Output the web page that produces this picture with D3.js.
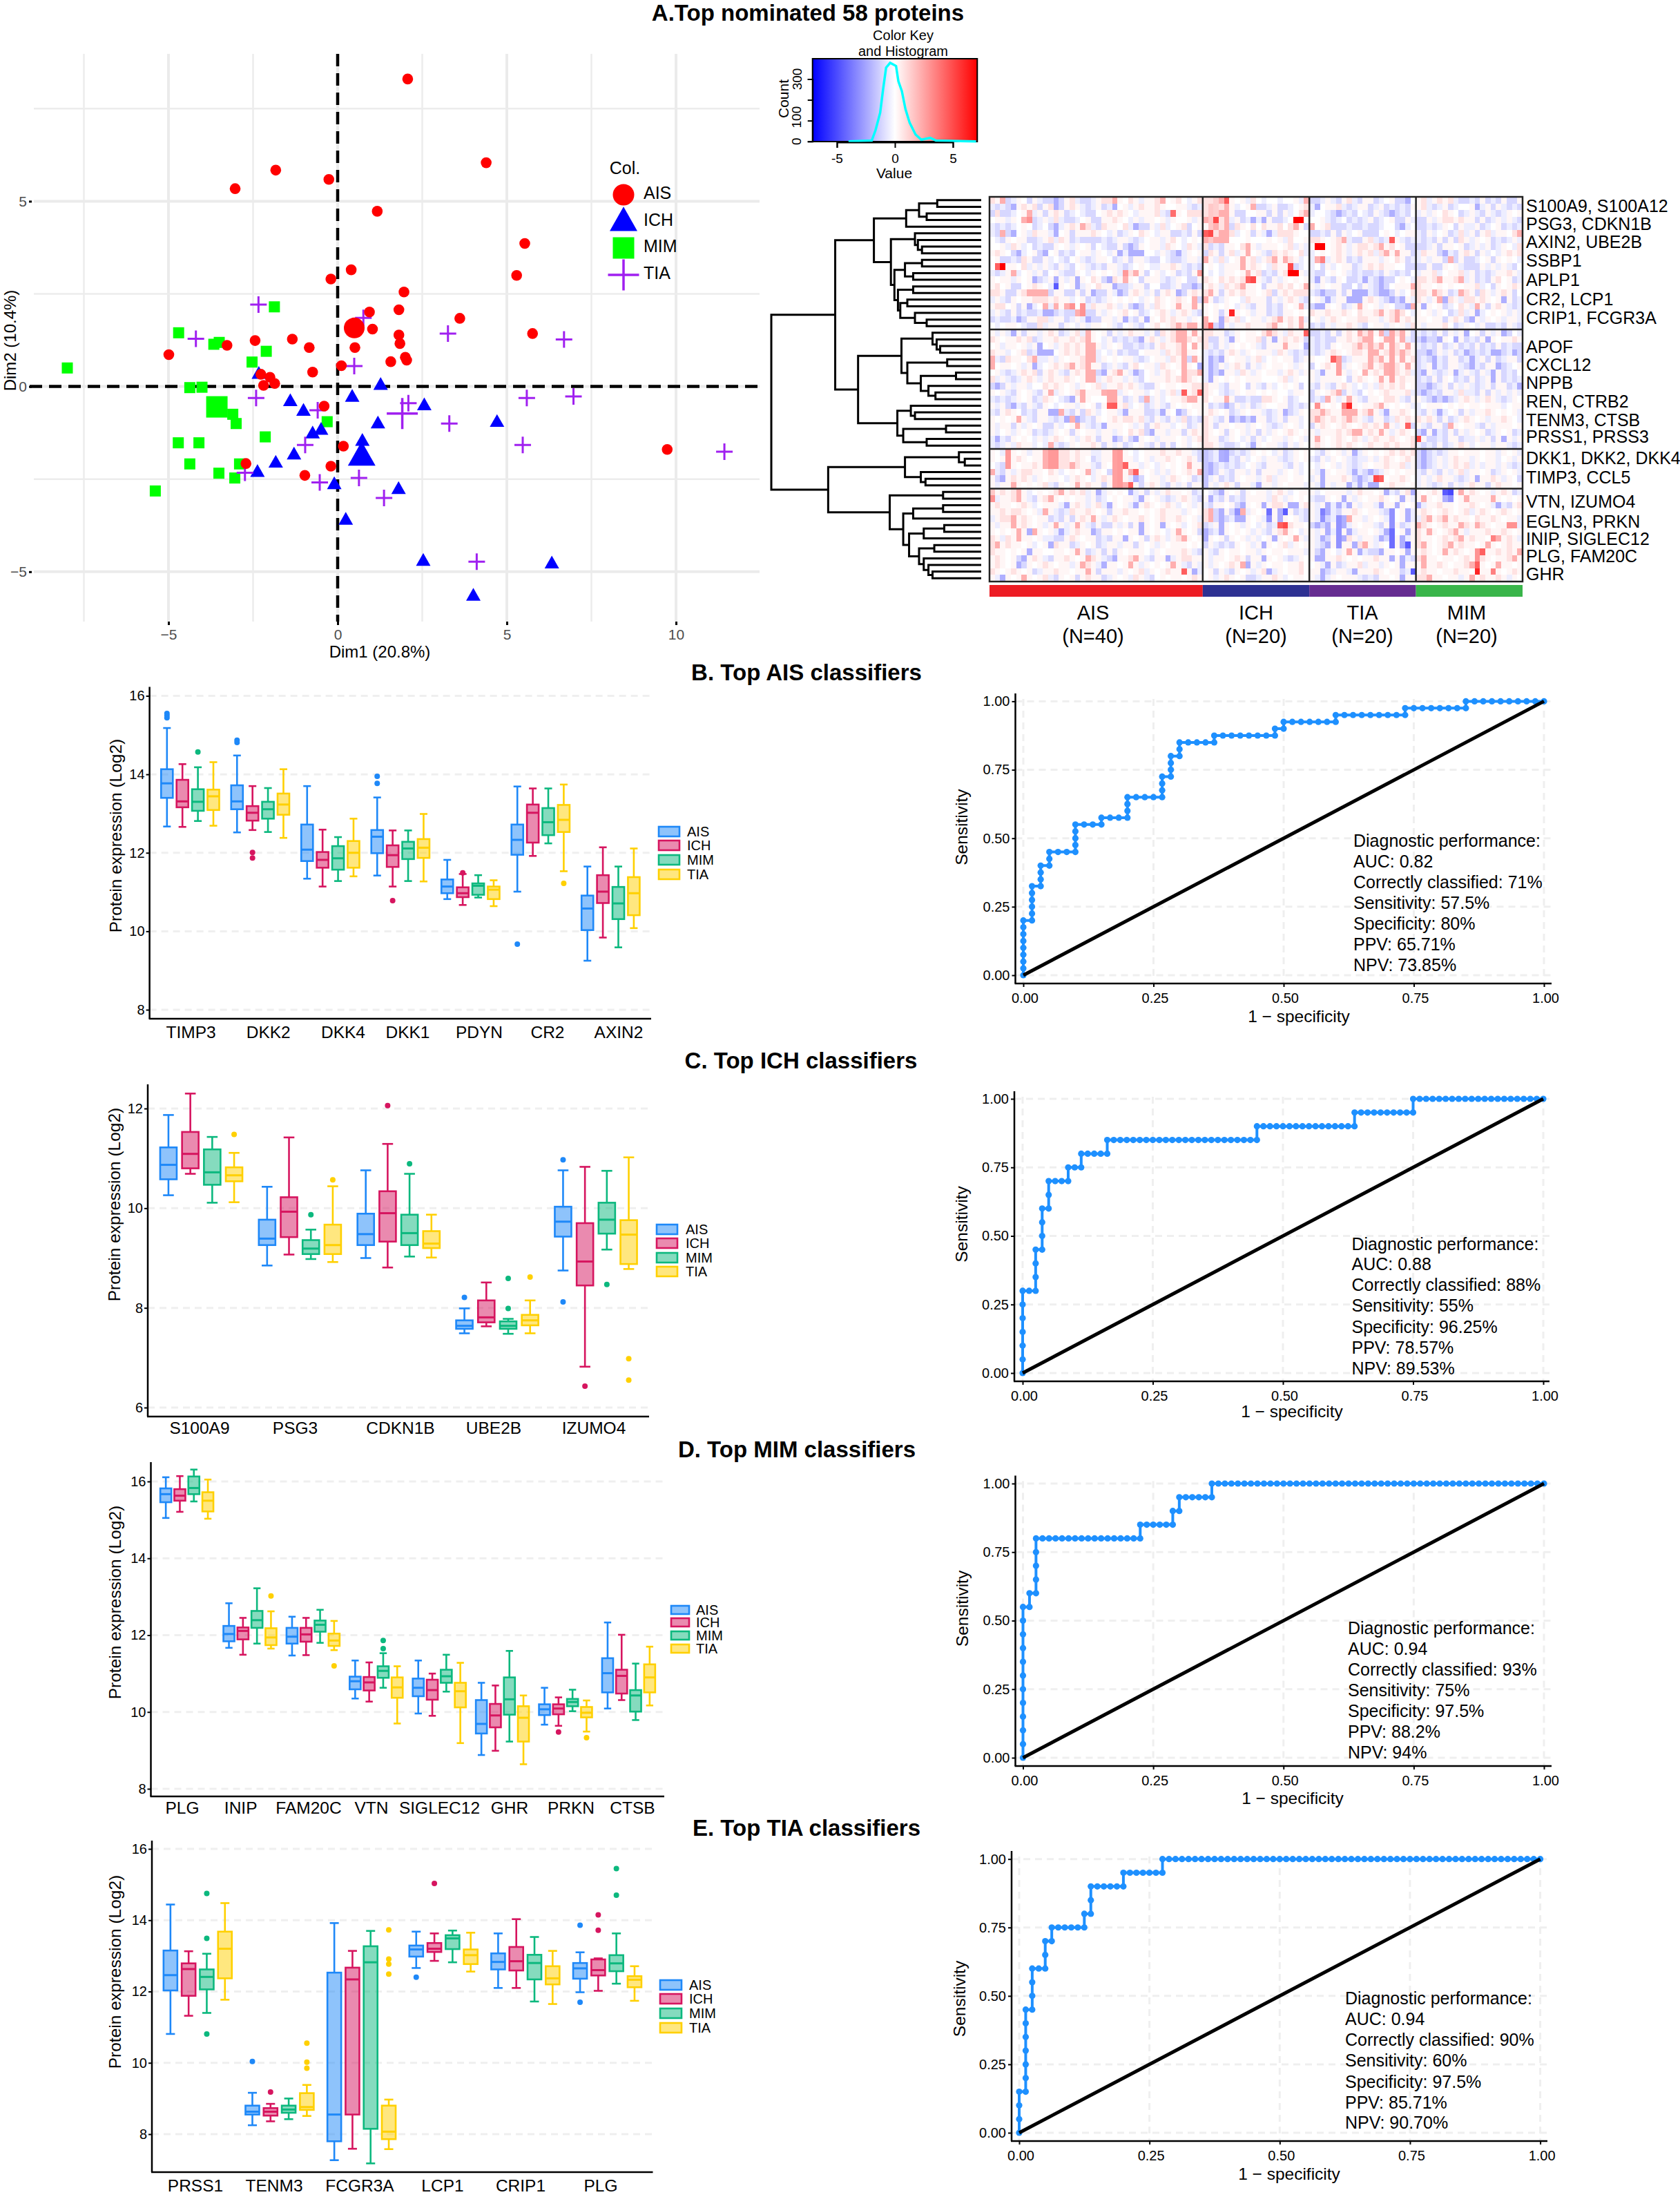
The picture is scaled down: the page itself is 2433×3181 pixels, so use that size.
<!DOCTYPE html>
<html><head><meta charset="utf-8">
<script src="https://cdnjs.cloudflare.com/ajax/libs/d3/7.8.5/d3.min.js"></script>
<style>html,body{margin:0;padding:0;background:#fff}svg{display:block}text{font-family:"Liberation Sans",Arial,sans-serif}</style>
</head><body><div id="c"></div>
<script>
// ---------- PCA data: [Dim1, Dim2]; the last entry of each list is the group centroid
const pcaAIS=[[2.07,8.30],[4.39,6.04],[-1.83,5.84],[-0.26,5.59],[-3.03,5.34],[1.17,4.73],[5.53,3.86],[5.29,3.00],[0.40,3.15],[-0.20,2.90],[1.96,2.55],[1.81,2.07],[0.94,2.01],[1.03,1.55],[3.61,1.84],[5.76,1.43],[1.81,1.39],[1.84,1.16],[0.51,1.05],[-0.84,1.05],[-1.34,1.28],[-2.44,1.24],[-3.27,1.11],[-4.99,0.86],[1.57,0.67],[2.00,0.79],[2.04,0.71],[0.11,0.56],[-0.74,0.39],[-2.27,0.33],[-2.00,0.25],[-2.19,0.03],[-1.86,0.08],[-0.40,-0.53],[0.17,-1.61],[-2.71,-2.08],[-0.20,-2.15],[-0.97,-2.40],[9.74,-1.70],[0.49,1.58]];
const pcaICH=[[-2.33,0.35],[-1.40,-0.39],[-1.01,-0.65],[0.43,-0.27],[1.27,0.05],[2.56,-0.50],[1.19,-0.99],[4.71,-0.95],[-0.49,-1.16],[-0.74,-1.26],[0.73,-1.46],[-1.29,-1.83],[-1.83,-2.05],[-2.37,-2.30],[-0.10,-2.63],[1.80,-2.76],[0.24,-3.59],[2.53,-4.70],[6.33,-4.77],[4.01,-5.64],[0.71,-1.87]];
const pcaMIM=[[-1.87,2.15],[-4.70,1.45],[-3.66,1.14],[-3.50,1.19],[-2.11,0.95],[-2.53,0.66],[-7.99,0.50],[-4.37,-0.03],[-4.01,-0.02],[-3.10,-0.75],[-3.00,-1.00],[-0.31,-0.95],[-2.14,-1.36],[-4.71,-1.52],[-4.10,-1.52],[-4.37,-2.09],[-2.90,-2.09],[-3.51,-2.34],[-3.04,-2.47],[-5.39,-2.82],[-3.57,-0.55]];
const pcaTIA=[[-2.34,2.21],[-4.19,1.29],[0.76,1.85],[3.26,1.43],[6.69,1.27],[0.49,0.55],[-2.41,-0.31],[-0.59,-0.64],[5.59,-0.31],[6.97,-0.27],[2.09,-0.45],[3.30,-1.00],[-0.96,-1.58],[5.47,-1.58],[11.43,-1.76],[-2.74,-2.33],[0.63,-2.47],[-0.53,-2.59],[1.37,-3.01],[4.11,-4.73],[1.91,-0.73]];

// ---------- Heat map
const heatLabels=["S100A9, S100A12","PSG3, CDKN1B","AXIN2, UBE2B","SSBP1","APLP1","CR2, LCP1","CRIP1, FCGR3A","APOF","CXCL12","NPPB","REN, CTRB2","TENM3, CTSB","PRSS1, PRSS3","DKK1, DKK2, DKK4","TIMP3, CCL5","VTN, IZUMO4","EGLN3, PRKN","INIP, SIGLEC12","PLG, FAM20C","GHR"];
const heatGroups=["AIS","ICH","TIA","MIM"];
const heatGroupN=[40,20,20,20];
const heatRowBlocks=[20,18,6,14];
const heatLevels={'#':-4.5,'=':-2.2,'-':-1.1,'_':-.5,'.':0,',':.25,'+':.8,'*':2.2,'%':4.4,'@':7};
const heatRows=[
"+,*-_,.-,_ --=-,+_--_ ,++*,.+,_, ,+*.,+._,+|++**%,.,_+ ._.._..,_*|--_,_-,+_- ,,-_.,--=.|,+_,+,+_-- _-,-_-,--,",
"_-_-=,+,+- ,+=-,+,_-_ ,-_=.,_,+, ,+,..,,_-_|+,*+*,_.,* --_,--_.,+|_=.,,+_-_, ,-_,-_-_-,|,+_-_,-_.. ,=_,-,_-_-",
"-+--_.,*_, -,+,-_._-- .,+,+,._,, ,+_-*,.+++|+*-*-,--.. ,,-,-,_.+*|_.._-=-_-. _-,_-=-_-.|_,_,.+,.-_ ,_-,_-_,.,",
".,,_,.*--_ ,_+_--_.,- -,,+,._,_, ,.,_,..,_,|*%,+-_,-_= _=,--_.@_.|..,_-_.-_- _,-_.,--,_|--,_,++,+, ,-,-_,_,_-",
"_-_-_.,.-_ .-=_,+,*+_ -+,,.+_=-- ,_+_.,+-.,|,**+,-+,.+ .+,,+.+*,-|*.,+---_-- _--_..-=_.|--_-_,.-,_ _,-_.,-_-_",
"_-*-=.,_+, ,_=.,-,,,+ ,._,-_,.+, ._,,--_-,-|%*+*,+_.,- ,_=_+++,..|--_-,-,_., ---.,._.,,|_-,_.,-_+_ ,-,+_,,.+*",
"._-,.,,--_ ,+_+,-_-- --_-_,,_-_ .,,_,+._.,|*+**,...,. ..,.,_+..,|++,.,+*_-- ,+_-_%,_-_|_-_-,-,-+, _,.,-_-_,_",
"..,_+,_.-_ --,.,_,.,- ._--,-=-,. ,,_+,._+,_|+-_-,,.+*, _,,,.,+_,_|,@+.,+,_,+ +,+*,+.,--|--_,-,,.,- _,_,-_,._+",
",+,.-=_.,- =.,-_-.,,_ ,._,=_===. ._,_-=_,.,|-+,-,+_,*. ,_-+,+,.+_|_.,.,+,_,+ ,+_+*,*,,-|_+,,-=_-,+ ,-,_._,+,+",
".,--_-+,-- ,_._-.,_-_ ,,.-_,-,,_ --._--_,,_|*,_+_.,*,+ _,+*,*+,_.|_*,_,+,-_- ,,,_,.+,-_|_,_,,-*-,- -_.,-,.,._",
".%@,,.+_,_ ,_-,_-.,_- _-,,_-_.,. __,,+,_-_-|.,._,,,*,+ ,._+,,%-_.|_.-,_.,,-_ ,+,+,,..--|--,--,.,_- --,_,_,_-",
"_-_,*_.,_, -.,_--,._, .,.,_-+*,- .,_.,-_-,,|._._,,.,*, +-_-,+,@,_|_--.,.,_-_ --_-,_-_-.|_,,+_.,,+_ ,-_-_,,+,_",
",.,,_,.,=- _,=,_,=,.+ ,-=+,*,.-, ,,_-_,.--,|+,.+,+,+%, ,_-,_,.,.,|_=,_-,.--_ =_-=--.,._|++,+*,,+*_ ,-_-,+.,-_",
",+.,--.,+, ._#,.,=_,. +,,=--_,,- ..--_,--=-|,+,_+,+*,, .-,,+,+.,*|,_,.,,--.- ,_-=-.,,,*|+,,.,.,.., ,+_.-,.,+,",
"++,--,+*** *-,,--,-,= --,_=-,+,_ ,-,+,=-,+,|+*,-,+,+,, .,+-,+,+++|_-=--,-,== =_-==-,_.+|++,*+,-_*+ ,-+,_,+,-.",
"_,_-,.,,++ +,+,,_.,-_ -_,.,.,._, .+,.,+,.*-|*,-_,.._+, ,,-,_,+,_-|.,_=_,,=== ,+,_-=-=,_|+,_,*=+,_+ +,+,.,=,-_",
",++.,-,=_. *_*,*,.,_+ ,,+,_,-=-, _+,.,*,,*,|,.,.,._,_- ,,-_-,.,*_|-==,.,-_,* ,.,_,.--=*|,=,.,-_.+, _*,-,+,_-_",
"_,_-,-_--_ ==-_--*,-- ,_,.,+.,-_ .,+,_,+,_-|,.,-,%,.,_ ,,-_-,,.,.|+,,+,,+,.+ ,,+*,+*+._|,.,_,.-_+_ ,=_.,.,_,_",
"-_--_=-,,+ +_,,-_,_=- -,,_,=_-,= ,.+,+,,_,.|*.,=+,+_., ,_,+*,+,*_|.,_,+,.,,+ +,,_,+*,+,|,,.,,-,+,- =,_,.,_,,_",
"._.,,._--+ _,,-,._,_, ,.,_-.,_-. ,+.,+*+**,|*%-=,_,,+, ,,+*,.+,*,|-_-,_,,+,_ -.,,_,.,_+|,_,,,+.-_, ._,--_-,_-",
",_,_=,-,,_ ,+,-_,+_*, .,-,_,+,,_ ,-+,+*+,*,|++,,-_,.,, .+*+,_+,,%|--_-,-,+,* +,,*-,+*,--|_-_-,-,_,= .,-,_,=-._",
"+,.,,+,+-_ ,,+,,+,+*, ._,-_-_-=, +,_,+*,+,+|+--,_=,.,, +-,=,+,+,-|_-_--,,+,+ *+.,*_,*_-|-=--=,.=,- _-,=,.,,+,",
".,_,,.,_,= .,_,+,+,+* ,_,.,--_-_ -,+,,+_.*,|+_-,_,.,., _-,,,*,,.=|_-_-,.,,+* +,+*,*+,*,|_-_-,-_,-_ -,-_-,-_--",
"+,,_.,+-_= ==.,+,+,+* _._,-_--., ,,_+,+,,,.|_-_-,+,_,. ,,,_+,_-_-|_-_,+,.,++ ,,*,+*+*+,|--=-,_,-_= -_-_==-_=-",
"*_-+,,.+*_ _,_,.,,+** _,.,.,,_-_ .,,_+,+-*,|_=-=,.,,_, +_.,.,,-_,|,..,%=-_,, ,,+*,.,*,+|-_-=_-,,-_ =_,-,-_,,-",
"*.,,.,_,=_ .,+,+*,+*, ,-_,_-,+., ,_+,.,,,.=|_=-,_,+,-, _,.,,.,_,.|-.,+,*_,., ++,+*,+,*,|-_,=_-,,_- =_-,,=-_.,",
".,_-_,+,+- ,+,_-,+,+* -=,+*,_=-. ,_,+,.,++*|_=-=,,_+,_ ,.,,_,+,_,|,_=,,+,_,. *,+,*,+,+_|-=,_-_,=_, _-,_=,-_-.",
"+_,_-_,+,_ ,+,,+,.,+* _,+,,_,_-. ,,,+,+*+,.|_=,.,.,.,, ,...,+_,..|,_,,,,.-,+ ,.,*,.,+,,|-_-,-,.-_- ,-_,=,-_-_",
"-=-,_,,_.. +,+,.,_,., +_,,+,+,_- -,.,,.,,++|+,,_-,,.-, _-,_.,.,-.|_-,_-,+,_. _,_+,+,+.,|--=-_,-,_, _-_,-,,-_=",
",.,_-,.,_- ,*_,.,+*,, ,*%,_,.,,_ .,_,+_+,+%|+,._-_,.,, .,.,.._,,.|-,.,+*-,_- .,.,+,,,+_|-=-_-,,_+_ _-,-,_,_,_",
"_-_-_,.,-_ +,._-=,*,. ..+*,-_,-* _,_.,,+**,|+.,,*,--_- -++,.,-_..|-_-*,_,*,_ -,,.++,_-,|,_-=-=-_,+ ,_,+,_-_,.",
",_,-=_-,_- ,._.,,_,., -,%,,+_.,- _,_-,.,.,,|,-_-=-,_,- _,..,,-_-_|.*,.,.*%,. ,,+*,.,.,_|_.,,,.,.,. ,,.,,,_.,,",
"_-,+,.-_-, ,==*_-,-+, _.,,_=,,,- -_=,.=-,.,|,+,.,-_,., ,_-_,=-_,.|++*+,,***, +*,_=,,+,.|_-,_=_.,-, _,,+,.,.,_",
",.,.,*,_-, ,_-_=*=-_- ,.,+,++,+_ -,_-,_+-_-|+,_-,=-=-= ,,-_,-,,_.|+*+,+,+*+, _-,,-_+,+,|+,+,-,-_,+ ,.,_,,+,._",
",_,,-,_,., --,_.,*,_- _=,,,.,_,- ,+,,_.,-_,|+,-,,.,,_, .,_-_,.,_.|-,+,.,+,., +,+,*,_,%-|,_-,,-*,., ,_-,_,,,.,",
",_.,_,.,-_ -_,.,-,.,, _,,_,.+,+- =,,_,,-,+,|+,.,-,.,_, -,_,.,+,.,|,_,,,+,+** ,+,*,_,+,.|-=,=_-,-,_ ,.,-_,.,-_",
"_=_-,.,._, _,+,.,_,+, -,,=-,-=,. ,_,,,.,_,+|+,,-_,._,- ,_.,,_,.,_|,*,.,+,.+, _,+,,+,.,+|%,--_-,,-_ _,_,-,=,_,",
"_-_,_+,,_. _*_-_,.,,+ ,-,_,-_.,_ -,-,-.,_.,|++,_--_._= ,.,,_-,_,.|,+,.,+,+,. ,+,,+,+,,+|_-_-,-_,+, _.,,_,,_-_",
",._*,.,_,, *%,++,+,,_ _,,*%,._., ,,+,,+,,_-|=-_=_-_-_, .,._,-_,.,|._-,.,_,=_ ,.,.,+,+,+|-=-_-_,,., ,,.,,_,.,_",
",.,*,+,.,, **,++,+,.- _,,*%,,_., _,,+,.,+,-|=-_=-_-,_. ,_,,_-_,.,|_-,_,.,_-_ _,_,+,.,+,|-=-_,_,+,, _,.,,_.,_,",
"._-*,.,,+, **,++*+,,_ -,.,*%,,_, ._,.,.,*,,|-=-_-_-_., _-,,,_-,_.|._,.,_,_-_ ,.,,+,,+_,|-=-_,_,+,+ _,_,,_,_-_",
"*_-,_,++,, .+,_.,.,*_ ,.-,.,*%,. ,_,_,.,+,*|-=-,_-,,_, -,,,_,.,_.|,_=,.,,_=_ -=-_,.,.,,|_-,_-,_,+_ ,,.,-_,.,_",
",-=,+,+,_, .,,._,+,._ ,+,.*,_=-. ,,_,+,.,-_|=_,-_-,.,, _,+_,,.,,.|_,=,,,+,-= -_=%.,,+,.|_,_,+,,_-_ ,=,,+,_,.-",
",_,,*,.,., +_-,.,*,+, ,-,.,*%,-, +,_-,_,-,,|=,_,+,-,,_ =,,_,.,,,_|,_=,_,,=_= _==.,+,,.,|_,_-_,-,_, +,,-,+,,.,",
",,+,+*,_., .,+*,+,+_, =_,.,.=_,- ,_,+,,.,-_|._-=,.,-,. ,,_,+,_.,,|,_.,,,,_,+ ,,.,=_-,+=|,.,+,#,,*, +,.,_,+,-_",
"*_,,+*,_-, +*,.,.,,_, -_.,.,,_=, .,_-_,+,_-|,=_-,-_-,, ,,_+,_,.,.|_--,.,=,_, .,,+,.,=,_|,*,.,=,.,* ,,,,*,.,.,",
",+,,.,+,_. ,,,_=,+,_, +_=,.,_=,+ ,.,+,_.,_,|_-,,.,-=,. ,=,++,==,+|,_,=_=_=,_ ,,_=,,=,.,|=_,,+,,.,, +,.,_=_-,+",
",,+,++,.,_ *,_-_+,,+, .,-,,+,,., .,+,,,_,.,|+*-=,-=*_, .,.,=#,-_-|,_#=_-,,+, .,,_-,.,=_|,+,.,+,.,+ _,+,.,+,.,",
"_,++*,+,., ,-_-,-,+,* ,_,+,.,,+, .,+,,+,.,_|+*-=-_==,. ,_.,=,.,_-|,_=-_-=*,, _,.,_,.,=_|_+*,+*,+,, .+,,+,.,,_",
",_,,*,+,., _,*,_,*,_- ,--,_,-,=, .,=,.,_.,+|-_,=,.,_,. _,-_%,+,,.|-=-=,-=_,. ,,_-,_,-_,|*+,.,+,,*+ ,*+,.,,**_",
",.,.,*,=*, .,_=_,+,,= -,,.,.,,=, .,._,*,.,-|=-_=,.,.,_ ,_-,+*,._,|,_,=_.,=_, ,.,_=,.,=,|+,*,.,+*,_ ,,,+,,+,.,",
"+,_+,*,,., __--,+,.,, -_-,,=,.,- ,+,_,+*,.,|=,.,-,.,_, _.,=,.,*,_|,_=-,,=+,_ ,,_=-_,=_,|+,,.,+,+*, +,,.,*,+,_",
"+*,+,,.,_. ,=+,,-_,., -_,,_,,-,. ,_,.,,,.,.|-,_-_-,.,_ ,=,.,+_,.,|,_-=,.,,=+ *,_,._,=#,|+*,.,+*,+, ,.,*,.,+,,",
"+,,.,.,=,, ..,,.,*,-_ ,-,-,.,,,. _,.,,,+,_-|,_-,.,,.,, _,.,,.,,,_|,-=,._,*,= _--=,,.,=,|,+,.,*,+,. ,,%,,+,+,*",
",+,.,-=,+, _-,,+,.,*+ ,_-=,,+*,_ -,,=_,++,,|,_,,.,+,-, ,=,.,_-_,.|,==,,+,.,. ,,+,,=,=_-|+*,,.,,.,+ ,*+,.,,+*,",
",+,.,=-,., +,.,,_,*+, _=,,.,*,_, .,.,*,_-,_|,_,.,+,*=, _,.,,.,,+.|.,_=,-_,,+ _,,_,.,=,,|,*,,+,.,,+ *%,.,*,,.,",
"+,.,+,.,-_ ,,+,,.,,*, -,,,_,.,+_ ,.,+,,%,=_|.,-,_-,.,_ ,+=_,.,,+.|,,=-_,,_=, ,,+,.,,-_,|,+,,.,,+,, .@,,*,.,+,",
",_=,.,*,., +_-,.,-,+, ,-_,.,_+,_ -.,.,,.,+,|.,_,+,.,-- _,,+,_.,,.|,_=_,.,,,_ -_-,,.,=,,.|++*,,.,,_, *,+,,+,_,."
];
// cells read individually: [row, column, value]
const heatPeaks=[[10,2,7],[13,12,-4.5],[2,34,4],[3,7,3],[16,15,3],[16,17,3],[17,17,3],[11,25,2.8],[11,39,2.8],[3,58,7],[10,56,5],[11,56,7],[12,49,5],[17,45,6],[5,41,5],[3,42,5],[0,44,4.5],[7,62,7],[9,62,3.5],[6,75,4.5],[31,23,4.5],[29,36,4.5],[31,66,3.5],[31,67,6],[31,61,3],[36,80,5],[42,72,5],[47,46,-3],[47,52,-4],[48,52,-3],[49,55,5],[47,62,-3.5],[48,62,-3],[44,86,-5],[45,86,-3],[56,91,6],[53,91,3],[54,91,3],[51,94,3.5],[56,94,3.5],[49,97,3],[49,98,3],[56,79,-4.5],[44,0,1.5],[45,0,3]];
// stripes: [column, first row, last row, value]
const heatStripes=[[18,20,27,2.2],[36,20,27,2.2],[71,20,25,2.2],[75,20,27,2.4],[65,24,26,2.6],[22,29,30,2.4],[23,29,30,2.4],[3,38,40,2.8],[11,38,40,2.8],[12,38,40,2.8],[23,38,43,2.6],[24,38,43,2.8],[44,38,39,-2.4],[40,38,43,-1.6],[65,48,52,-3],[75,47,49,-3],[75,50,52,-4],[41,1,6,1.5],[44,1,6,2.2],[42,0,2,1.3]];
const histValue=[-4,-2.0,-1.68,-1.27,-1.02,-.76,-.41,.1,.3,.6,.91,1.27,1.78,2.28,3.05,3.55,7];
const histCount=[0,4,52,138,250,355,378,363,290,242,156,90,33,8,17,4,0];
// Dendrogram: [height, left, right], 0 is a leaf
const dendroTree=[358,[249,[183,[128,[106,[75,0,0],[93,0,0]],0],[154,[113,0,[108,0,[101,0,0]]],[148,[130,[101,0,0],[116,0,0]],[142,[116,0,0],[138,[126,0,0],[113,0,[93,0,0]]]]]]],[210,[136,[83,0,[76,0,[70,0,0]]],[126,[58,0,0],[103,[43,0,0],[90,0,[78,0,0]]]]],[143,[120,0,[113,0,0]],[133,[60,0,0],[93,0,0]]]]],[261,[130,[38,0,[28,0,0]],[103,0,[95,0,0]]],[156,[65,0,0],[133,[116,[65,0,0],0],[123,[98,[63,0,0],0],[106,[80,0,0],[98,0,[90,0,[83,0,0]]]]]]]]];

// ---------- Box plots: [upper whisker, Q3, median, Q1, lower whisker, [outliers]] for AIS, ICH, MIM, TIA
const boxGroups=["AIS","ICH","MIM","TIA"];
const catsB=["TIMP3","DKK2","DKK4","DKK1","PDYN","CR2","AXIN2"];
const boxesB=[
[[15.18,14.13,13.77,13.40,12.67,[15.55,15.50,15.44]],[14.26,13.86,13.31,13.16,12.66,[]],[14.18,13.62,13.30,13.07,12.81,[14.57]],[14.31,13.61,13.44,13.09,12.69,[]]],
[[14.48,13.72,13.31,13.11,12.52,[14.87,14.81]],[13.70,13.19,13.02,12.82,12.58,[12.01,11.87]],[13.65,13.30,13.11,12.87,12.53,[]],[14.13,13.51,13.23,12.97,12.38,[]]],
[[13.70,12.72,12.08,11.79,11.34,[]],[12.59,12.02,11.82,11.62,11.14,[]],[12.40,12.17,11.86,11.57,11.28,[]],[12.87,12.30,12.00,11.62,11.40,[]]],
[[13.41,12.58,12.41,11.99,11.42,[13.95,13.77]],[12.57,12.19,11.94,11.64,11.14,[10.78]],[12.57,12.28,12.11,11.84,11.28,[]],[12.99,12.35,12.13,11.87,11.27,[]]],
[[11.82,11.32,11.14,10.97,10.82,[]],[11.46,11.12,10.97,10.87,10.67,[11.49]],[11.43,11.22,11.16,10.93,10.86,[]],[11.30,11.14,11.06,10.82,10.64,[]]],
[[13.69,12.72,12.33,11.95,11.01,[9.67]],[13.64,13.23,13.02,12.26,11.92,[]],[13.64,13.14,12.78,12.45,12.24,[]],[13.74,13.22,12.84,12.53,11.53,[11.22]]],
[[11.65,10.91,10.58,10.03,9.25,[]],[12.14,11.43,11.01,10.72,9.84,[]],[11.65,11.13,10.71,10.31,9.59,[]],[12.11,11.38,10.97,10.41,10.08,[]]]];
const catsC=["S100A9","PSG3","CDKN1B","UBE2B","IZUMO4"];
const boxesC=[
[[11.87,11.22,10.87,10.58,10.26,[]],[12.30,11.53,11.09,10.80,10.69,[]],[11.43,11.18,10.72,10.47,10.11,[]],[11.11,10.82,10.66,10.54,10.12,[11.48]]],
[[10.43,9.77,9.39,9.26,8.85,[]],[11.42,10.22,9.93,9.42,9.07,[]],[9.57,9.36,9.19,9.08,8.98,[9.87]],[10.44,9.67,9.26,9.08,8.92,[10.57]]],
[[10.76,9.89,9.48,9.26,9.00,[]],[11.29,10.34,9.90,9.33,8.81,[12.06]],[10.69,9.87,9.50,9.26,9.03,[10.89]],[9.87,9.54,9.29,9.20,9.01,[]]],
[[7.99,7.75,7.64,7.58,7.49,[8.21]],[8.51,8.15,7.81,7.71,7.63,[]],[7.78,7.73,7.64,7.58,7.48,[8.59,7.99]],[8.15,7.86,7.75,7.65,7.49,[8.62]]],
[[10.76,10.03,9.73,9.43,8.75,[10.97,8.12]],[10.83,9.70,8.93,8.45,6.82,[6.43]],[10.75,10.11,9.77,9.49,9.17,[8.47]],[11.02,9.76,9.47,8.88,8.78,[6.98,6.55]]]];
const catsD=["PLG","INIP","FAM20C","VTN","SIGLEC12","GHR","PRKN","CTSB"];
const boxesD=[
[[16.11,15.82,15.67,15.46,15.05,[]],[16.14,15.80,15.63,15.50,15.21,[]],[16.31,16.13,15.83,15.67,15.48,[]],[16.05,15.72,15.50,15.22,15.03,[]]],
[[12.83,12.24,12.03,11.84,11.67,[]],[12.45,12.20,12.11,11.89,11.49,[]],[13.22,12.63,12.39,12.19,11.78,[]],[12.62,12.18,11.94,11.74,11.65,[13.02]]],
[[12.48,12.19,11.96,11.78,11.47,[]],[12.45,12.19,12.02,11.83,11.48,[]],[12.66,12.38,12.27,12.09,11.80,[]],[12.37,12.04,11.86,11.72,11.61,[11.20]]],
[[11.34,10.92,10.80,10.59,10.35,[]],[11.29,10.91,10.77,10.56,10.27,[]],[11.53,11.19,11.07,10.89,10.63,[11.86,11.65]],[11.19,10.90,10.64,10.37,9.70,[]]],
[[11.34,10.87,10.63,10.41,9.96,[]],[11.00,10.84,10.57,10.32,9.90,[]],[11.49,11.10,10.93,10.76,10.53,[]],[11.28,10.76,10.54,10.12,9.19,[]]],
[[10.76,10.31,9.69,9.44,8.88,[]],[10.69,10.21,9.91,9.60,8.99,[]],[11.59,10.90,10.33,9.93,9.23,[]],[10.43,10.15,9.85,9.23,8.64,[]]],
[[10.63,10.20,10.07,9.92,9.67,[]],[10.38,10.20,10.09,9.94,9.64,[9.48]],[10.58,10.34,10.26,10.15,10.02,[]],[10.30,10.13,9.98,9.86,9.49,[9.33]]],
[[12.33,11.40,11.01,10.51,10.09,[]],[12.01,11.10,10.94,10.48,10.31,[]],[11.26,10.57,10.43,10.01,9.79,[]],[11.70,11.24,10.90,10.51,10.17,[]]]];
const catsE=["PRSS1","TENM3","FCGR3A","LCP1","CRIP1","PLG"];
const boxesE=[
[[14.44,13.15,12.46,12.03,10.81,[]],[13.13,12.79,12.63,11.88,11.32,[]],[13.06,12.62,12.41,12.06,11.40,[14.75,13.49,10.81]],[14.48,13.68,13.20,12.37,11.77,[]]],
[[9.16,8.80,8.63,8.55,8.25,[10.04]],[8.85,8.73,8.63,8.52,8.36,[9.18]],[9.00,8.80,8.69,8.60,8.42,[]],[9.38,9.15,8.76,8.68,8.51,[10.55,10.02,9.85]]],
[[13.92,12.53,8.55,7.80,7.27,[]],[13.14,12.67,12.34,8.55,7.59,[]],[13.70,13.27,12.82,8.15,7.18,[]],[8.97,8.80,8.07,7.86,7.58,[13.73,12.91,12.77,12.49]]],
[[13.68,13.29,13.18,12.98,12.66,[12.40]],[13.63,13.36,13.20,13.11,12.86,[15.03]],[13.71,13.58,13.49,13.19,12.82,[]],[13.65,13.18,13.02,12.77,12.56,[]]],
[[13.63,13.07,12.83,12.62,12.10,[]],[14.03,13.25,12.85,12.59,12.10,[]],[13.53,13.03,12.80,12.34,11.72,[]],[13.14,12.71,12.37,12.20,11.65,[]]],
[[13.10,12.80,12.65,12.36,11.98,[13.86,11.70]],[12.93,12.90,12.60,12.45,12.02,[14.15,13.72]],[13.63,13.02,12.79,12.57,12.22,[15.45,14.70]],[12.71,12.43,12.33,12.12,11.74,[]]]];

// ---------- ROC curves: alternating runs of steps up and steps right
const rocUpAIS=[8,5,3,2,4,1,3,3,3,2,1,1,1,1,1,1], rocRightAIS=[1,1,1,3,3,3,4,1,1,4,7,1,6,8,7,9];
const rocUpICH=[6,3,3,2,1,1,1,1,1,1], rocRightICH=[2,1,1,3,2,4,23,15,9,20];
const rocUpMIM=[11,1,4,1,1,1,1], rocRightMIM=[1,1,16,5,1,5,51];
const rocUpTIA=[3,6,3,2,1,1,2,1,1], rocRightTIA=[1,1,2,1,5,1,5,6,58];
const rocTextAIS=["Diagnostic performance:","AUC: 0.82","Correctly classified: 71%","Sensitivity: 57.5%","Specificity: 80%","PPV: 65.71%","NPV: 73.85%"];
const rocTextICH=["Diagnostic performance:","AUC: 0.88","Correctly classified: 88%","Sensitivity: 55%","Specificity: 96.25%","PPV: 78.57%","NPV: 89.53%"];
const rocTextMIM=["Diagnostic performance:","AUC: 0.94","Correctly classified: 93%","Sensitivity: 75%","Specificity: 97.5%","PPV: 88.2%","NPV: 94%"];
const rocTextTIA=["Diagnostic performance:","AUC: 0.94","Correctly classified: 90%","Sensitivity: 60%","Specificity: 97.5%","PPV: 85.71%","NPV: 90.70%"];
const rocTicks=[0,.25,.5,.75,1];

// ---------- drawing
const W=2433,H=3181;
const svg=d3.select('#c').append('svg').attr('width',W).attr('height',H).attr('viewBox',`0 0 ${W} ${H}`);
svg.append('rect').attr('width',W).attr('height',H).attr('fill','#fff');
function T(s,x,y,size,o={}){
  const t=svg.append('text').attr('x',x).attr('y',y).attr('font-size',size).attr('dominant-baseline','central')
    .attr('text-anchor',o.anchor||'middle').attr('fill',o.fill||'#000').attr('font-weight',o.bold?'bold':'normal').text(s);
  if(o.rot) t.attr('transform',`rotate(${o.rot} ${x} ${y})`);
  return t;
}
T("A.Top nominated 58 proteins",1170,18,33,{bold:1});
T("B. Top AIS classifiers",1168,973,33,{bold:1});
T("C. Top ICH classifiers",1160,1535,33,{bold:1});
T("D. Top MIM classifiers",1154,2098,33,{bold:1});
T("E. Top TIA classifiers",1168,2646,33,{bold:1});

// PCA
(function(){
  const x=d3.scaleLinear().domain([-5,10]).range([244,979]);
  const y=d3.scaleLinear().domain([-5,5]).range([827.8,291.4]);
  const g=svg.append('g');
  const [xl,xr]=[49,1100],[yt,yb]=[78,900];
  [-7.5,-2.5,2.5,7.5].forEach(v=>g.append('line').attr('x1',x(v)).attr('x2',x(v)).attr('y1',yt).attr('y2',yb).attr('stroke','#ececec').attr('stroke-width',2.5));
  [-5,0,5,10].forEach(v=>g.append('line').attr('x1',x(v)).attr('x2',x(v)).attr('y1',yt).attr('y2',yb).attr('stroke','#ebebeb').attr('stroke-width',4));
  [-2.5,2.5,7.5].forEach(v=>g.append('line').attr('x1',xl).attr('x2',xr).attr('y1',y(v)).attr('y2',y(v)).attr('stroke','#ececec').attr('stroke-width',2.5));
  [-5,0,5].forEach(v=>g.append('line').attr('x1',xl).attr('x2',xr).attr('y1',y(v)).attr('y2',y(v)).attr('stroke','#ebebeb').attr('stroke-width',4));
  const fmt=d=>String(d).replace('-','\u2212');
  const ax=svg.append('g').attr('transform',`translate(0,${yb})`).call(d3.axisBottom(x).tickValues([-5,0,5,10]).tickSize(5).tickPadding(6).tickFormat(fmt));
  ax.select('.domain').remove(); ax.selectAll('line').attr('stroke','#000').attr('stroke-width',3);
  ax.selectAll('text').attr('font-size',21).attr('fill','#4d4d4d').attr('font-family','Liberation Sans');
  const ay=svg.append('g').attr('transform',`translate(${xl-3},0)`).call(d3.axisLeft(y).tickValues([-5,0,5]).tickSize(4).tickPadding(3).tickFormat(fmt));
  ay.select('.domain').remove(); ay.selectAll('line').attr('stroke','#000').attr('stroke-width',3);
  ay.selectAll('text').attr('font-size',21).attr('fill','#4d4d4d').attr('font-family','Liberation Sans');
  T("Dim1 (20.8%)",550,943,24); T("Dim2 (10.4%)",14,493,24,{rot:-90});

  const circle=(s,cx,cy,r)=>s.append('circle').attr('cx',cx).attr('cy',cy).attr('r',r).attr('fill','#ff0000');
  const square=(s,cx,cy,a)=>s.append('rect').attr('x',cx-a/2).attr('y',cy-a/2).attr('width',a).attr('height',a).attr('fill','#00ff00');
  const tri=(s,cx,cy,a)=>s.append('path').attr('d',`M${cx},${cy-a*.52}L${cx+a/2},${cy+a*.36}L${cx-a/2},${cy+a*.36}Z`).attr('fill','#0000ff');
  const cross=(s,cx,cy,a)=>s.append('path').attr('d',`M${cx-a/2},${cy}H${cx+a/2}M${cx},${cy-a/2}V${cy+a/2}`).attr('stroke','#a020f0').attr('stroke-width',a>30?3.5:3).attr('fill','none');
  const p=svg.append('g');
  pcaMIM.forEach((d,i)=>square(p,x(d[0]),y(d[1]),i==pcaMIM.length-1?31:16));
  pcaICH.forEach((d,i)=>tri(p,x(d[0]),y(d[1]),i==pcaICH.length-1?40:21));
  pcaTIA.forEach((d,i)=>cross(p,x(d[0]),y(d[1]),i==pcaTIA.length-1?45:24));
  pcaAIS.forEach((d,i)=>circle(p,x(d[0]),y(d[1]),i==pcaAIS.length-1?15:7.8));
  const dash=svg.append('g').attr('stroke','#000').attr('stroke-width',4.5).attr('stroke-dasharray','18 10');
  dash.append('line').attr('x1',43).attr('x2',1100).attr('y1',y(0)).attr('y2',y(0));
  dash.append('line').attr('x1',x(0)).attr('x2',x(0)).attr('y1',yt).attr('y2',yb);
  // bring the markers over the dashed lines where they sit on them
  svg.node().appendChild(p.node());
  T("Col.",905,243,25);
  const l=svg.append('g');
  circle(l,903,282,15.5); tri(l,903,320,40); square(l,903,359,31); cross(l,903,398,45);
  [["AIS",279],["ICH",318],["MIM",356],["TIA",395]].forEach(d=>T(d[0],932,d[1],25,{anchor:'start'}));
})();

// colour key
(function(){
  const xv=d3.scaleLinear().domain([-5,5]).range([1212,1380]);
  const yc=d3.scaleLinear().domain([0,300]).range([204.7,114.5]);
  const col=d3.scaleLinear().domain([-7.1,0,7.1]).range(['#0000ff','#ffffff','#ff0000']);
  const grad=svg.append('defs').append('linearGradient').attr('id','key');
  [-7.1,-3.5,0,3.5,7.1].forEach(v=>grad.append('stop').attr('offset',(v+7.1)/14.2).attr('stop-color',col(v)));
  svg.append('rect').attr('x',xv(-7.1)).attr('y',85).attr('width',xv(7.1)-xv(-7.1)).attr('height',120).attr('fill','url(#key)').attr('stroke','#000').attr('stroke-width',2);
  svg.append('path').attr('d',d3.line().x((d,i)=>xv(histValue[i])).y((d,i)=>yc(d))(histCount)).attr('fill','none').attr('stroke','#00ffff').attr('stroke-width',3.5);
  const ax=svg.append('g').attr('transform','translate(0,206)').call(d3.axisBottom(xv).tickValues([-5,0,5]).tickSize(8).tickPadding(9).tickFormat(d=>d));
  ax.selectAll('line,path').attr('stroke','#000').attr('stroke-width',2); ax.selectAll('text').attr('font-size',19).attr('font-family','Liberation Sans');
  const ay=svg.append('g').attr('transform',`translate(${xv(-7.1)},0)`).call(d3.axisLeft(yc).tickValues([0,100,200,300]).tickSize(7).tickFormat(''));
  ay.selectAll('line,path').attr('stroke','#000').attr('stroke-width',2);
  [0,100,300].forEach(v=>T(v,1154,yc(v)-(v==100?5:0),19,{rot:-90}));
  T("Count",1134,143,21,{rot:-90}); T("Value",1295,250,21);
  T("Color Key",1308,51,20); T("and Histogram",1308,74,20);
})();

// heat map
(function(){
  const xb=d3.scaleBand().domain(d3.range(100)).range([1433,2205]);
  const yb=d3.scaleBand().domain(d3.range(58)).range([285,842]);
  const col=d3.scaleLinear().domain([-7,0,7]).range(['#0000ff','#ffffff','#ff0000']).clamp(true);
  const M=heatRows.map(r=>{
    const segs=r.split('|').map(s=>s.replace(/ /g,''));
    let row=[];
    heatGroupN.forEach((n,i)=>{const s=(segs[i]||'').padEnd(n,'.').slice(0,n);for(const c of s)row.push(heatLevels[c]);});
    return row;
  });
  heatStripes.forEach(([c,a,b,v])=>{for(let r=a;r<=b;r++)M[r][c]=v;});
  heatPeaks.forEach(([r,c,v])=>{M[r][c]=v;});
  const g=svg.append('g').attr('shape-rendering','crispEdges');
  M.forEach((row,r)=>row.forEach((v,c)=>g.append('rect').attr('x',xb(c)).attr('y',yb(r)).attr('width',xb.bandwidth()+.6).attr('height',yb.bandwidth()+.6).attr('fill',col(v))));
  const f=svg.append('g').attr('stroke','#222').attr('stroke-width',2.5).attr('fill','none');
  f.append('rect').attr('x',1433).attr('y',285).attr('width',772).attr('height',557);
  let cs=0; heatGroupN.slice(0,-1).forEach(n=>{cs+=n;f.append('line').attr('x1',xb(cs)).attr('x2',xb(cs)).attr('y1',285).attr('y2',842);});
  let rs=0; heatRowBlocks.slice(0,-1).forEach(n=>{rs+=n;f.append('line').attr('x1',1433).attr('x2',2205).attr('y1',yb(rs)).attr('y2',yb(rs));});
  // bar and group labels
  const barCol=['#ed1c24','#2e3192','#662d91','#39b54a'];
  let c0=0; heatGroupN.forEach((n,i)=>{const xa=xb(c0),xe=c0+n>=100?2205:xb(c0+n);
    svg.append('rect').attr('x',xa).attr('y',847).attr('width',xe-xa).attr('height',17).attr('fill',barCol[i]);
    c0+=n;});
  [[0,1583],[1,1819],[2,1973],[3,2124]].forEach(([i,x])=>{T(heatGroups[i],x,887,29);T(`(N=${heatGroupN[i]})`,x,921,29);});
  const ly=[298,324,350,377,405,433,460,502,528,554,581,608,632,663,691,726,755,780,805,831];
  heatLabels.forEach((s,i)=>T(s,2210,ly[i],25,{anchor:'start'}));
  // dendrogram
  const xh=d3.scaleLinear().domain([0,358]).range([1421,1117]);
  let leaf=0; const segs=[];
  function lay(n){ if(n===0){const y=yb(leaf)+yb.bandwidth()/2;leaf++;return {x:0,y};}
    const a=lay(n[1]),b=lay(n[2]);
    segs.push(`M${xh(a.x)},${a.y}H${xh(n[0])}V${b.y}H${xh(b.x)}`);
    return {x:n[0],y:(a.y+b.y)/2};}
  lay(dendroTree);
  svg.append('path').attr('d',segs.join('')).attr('fill','none').attr('stroke','#000').attr('stroke-width',3);
})();

// box plots
const boxCol=['#1e88f8','#d6155f','#0cb87e','#ffd000'];
function boxPanel(o){
  const y=d3.scaleLinear().domain([o.vLow,o.vHigh]).range([o.yLow,o.yHigh]);
  const x=d3.scalePoint().domain(o.cats).range([o.cFirst,o.cLast]);
  o.ticks.forEach(v=>svg.append('line').attr('x1',o.left).attr('x2',o.right).attr('y1',y(v)).attr('y2',y(v)).attr('stroke','#efefef').attr('stroke-width',3).attr('stroke-dasharray','10 7'));
  const ay=svg.append('g').attr('transform',`translate(${o.left},0)`).call(d3.axisLeft(y).tickValues(o.ticks).tickSize(5).tickPadding(2).tickFormat(d=>d));
  ay.select('.domain').remove(); ay.selectAll('line').attr('stroke','#000').attr('stroke-width',2);
  ay.selectAll('text').attr('font-size',20).attr('font-family','Liberation Sans').attr('fill','#000');
  svg.append('line').attr('x1',o.left).attr('x2',o.left).attr('y1',o.top).attr('y2',o.bottom).attr('stroke','#000').attr('stroke-width',2.5);
  svg.append('line').attr('x1',o.left-1).attr('x2',o.right).attr('y1',o.bottom).attr('y2',o.bottom).attr('stroke','#000').attr('stroke-width',2.5);
  o.cats.forEach((c,ci)=>{
    o.boxes[ci].forEach((b,gi)=>{
      const cx=x(c)+(gi-1.5)*o.off, hw=o.bw/2, cap=hw*.65, s=boxCol[gi];
      const g=svg.append('g').attr('stroke',s).attr('stroke-width',2.6);
      g.append('line').attr('x1',cx).attr('x2',cx).attr('y1',y(b[0])).attr('y2',y(b[1]));
      g.append('line').attr('x1',cx).attr('x2',cx).attr('y1',y(b[3])).attr('y2',y(b[4]));
      g.append('line').attr('x1',cx-cap).attr('x2',cx+cap).attr('y1',y(b[0])).attr('y2',y(b[0]));
      g.append('line').attr('x1',cx-cap).attr('x2',cx+cap).attr('y1',y(b[4])).attr('y2',y(b[4]));
      g.append('rect').attr('x',cx-hw).attr('y',y(b[1])).attr('width',o.bw).attr('height',y(b[3])-y(b[1])).attr('fill',s).attr('fill-opacity',.5);
      g.append('line').attr('x1',cx-hw).attr('x2',cx+hw).attr('y1',y(b[2])).attr('y2',y(b[2])).attr('stroke-width',3);
      b[5].forEach(v=>svg.append('circle').attr('cx',cx).attr('cy',y(v)).attr('r',4).attr('fill',s));
    });
    T(c,o.labelX[ci],o.labelY,24.5);
  });
  T("Protein expression (Log2)",o.ylabX,o.ylabY,24.5,{rot:-90});
  boxGroups.forEach((g,i)=>{
    svg.append('rect').attr('x',o.keyX).attr('y',o.keyY[i]-o.keyH/2).attr('width',o.keyW).attr('height',o.keyH).attr('fill',boxCol[i]).attr('fill-opacity',.5).attr('stroke',boxCol[i]).attr('stroke-width',2.6);
    T(g,o.keyLab,o.keyY[i],20,{anchor:'start'});
  });
}
boxPanel({cats:catsB,boxes:boxesB,vLow:8,vHigh:16,yLow:1462,yHigh:1007.5,ticks:[8,10,12,14,16],left:216.6,right:943,top:994.6,bottom:1475,cFirst:275.4,cLast:884.3,off:22.4,bw:17,
  labelX:[276.6,388.7,497,590.5,694,793,896],labelY:1494,ylabX:167,ylabY:1210,keyX:954,keyW:30,keyH:14,keyY:[1204,1224,1245,1266],keyLab:995});
boxPanel({cats:catsC,boxes:boxesC,vLow:6,vHigh:12,yLow:2038,yHigh:1605,ticks:[6,8,10,12],left:214,right:940,top:1570,bottom:2051,cFirst:291.5,cLast:863,off:31.7,bw:24,
  labelX:[289,427.5,580,715,860],labelY:2067,ylabX:165,ylabY:1744,keyX:951,keyW:30,keyH:14,keyY:[1780,1800,1821,1841],keyLab:993});
boxPanel({cats:catsD,boxes:boxesD,vLow:8,vHigh:16,yLow:2590,yHigh:2145,ticks:[8,10,12,14,16],left:218.5,right:962,top:2117,bottom:2601,cFirst:270.6,cLast:910.4,off:20.3,bw:16,
  labelX:[264,348.7,447,538,636.5,738,827,916],labelY:2617,ylabX:166,ylabY:2320,keyX:972,keyW:26,keyH:12,keyY:[2331,2349,2368,2387],keyLab:1008});
boxPanel({cats:catsE,boxes:boxesE,vLow:8,vHigh:16,yLow:3090,yHigh:2677,ticks:[8,10,12,14,16],left:220,right:945.5,top:2665,bottom:3145,cFirst:286.3,cLast:879.5,off:26.3,bw:20,
  labelX:[283,397,521,641,754,870],labelY:3164,ylabX:166,ylabY:2855,keyX:956,keyW:31,keyH:14,keyY:[2874,2894,2915,2936],keyLab:998});

// ROC
function rocPanel(o){
  const x=d3.scaleLinear().domain([0,1]).range([o.x0,o.x1]);
  const y=d3.scaleLinear().domain([0,1]).range([o.y0,o.y1]);
  rocTicks.forEach(v=>{
    svg.append('line').attr('x1',x(v)).attr('x2',x(v)).attr('y1',o.top+8).attr('y2',o.bottom).attr('stroke','#efefef').attr('stroke-width',3).attr('stroke-dasharray','10 7');
    svg.append('line').attr('x1',o.left).attr('x2',o.right).attr('y1',y(v)).attr('y2',y(v)).attr('stroke','#efefef').attr('stroke-width',3).attr('stroke-dasharray','10 7');
  });
  const ax=svg.append('g').attr('transform',`translate(0,${o.bottom})`).call(d3.axisBottom(x).tickValues(rocTicks).tickSize(5).tickPadding(o.tp).tickFormat(d3.format('.2f')));
  ax.select('.domain').remove(); ax.selectAll('line').attr('stroke','#000').attr('stroke-width',2);
  ax.selectAll('text').attr('font-size',20).attr('font-family','Liberation Sans').attr('fill','#000').attr('dx',2);
  const ay=svg.append('g').attr('transform',`translate(${o.left},0)`).call(d3.axisLeft(y).tickValues(rocTicks).tickSize(5).tickPadding(3).tickFormat(d3.format('.2f')));
  ay.select('.domain').remove(); ay.selectAll('line').attr('stroke','#000').attr('stroke-width',2);
  ay.selectAll('text').attr('font-size',20).attr('font-family','Liberation Sans').attr('fill','#000');
  svg.append('line').attr('x1',o.left).attr('x2',o.left).attr('y1',o.top).attr('y2',o.bottom).attr('stroke','#000').attr('stroke-width',2.5);
  svg.append('line').attr('x1',o.left-1).attr('x2',o.right).attr('y1',o.bottom).attr('y2',o.bottom).attr('stroke','#000').attr('stroke-width',2.5);
  const nUp=d3.sum(o.up), nR=d3.sum(o.rt); let u=0,r=0; const pts=[[0,0]];
  o.up.forEach((n,i)=>{for(let k=0;k<n;k++){u++;pts.push([r/nR,u/nUp]);} for(let k=0;k<o.rt[i];k++){r++;pts.push([r/nR,u/nUp]);}});
  const line=d3.line().x(d=>x(d[0])).y(d=>y(d[1]));
  svg.append('path').attr('d',line(pts)).attr('fill','none').attr('stroke','#1e90ff').attr('stroke-width',4);
  pts.forEach(d=>svg.append('circle').attr('cx',x(d[0])).attr('cy',y(d[1])).attr('r',4.6).attr('fill','#1e90ff'));
  svg.append('path').attr('d',line([[0,0],[1,1]])).attr('stroke','#000').attr('stroke-width',5).attr('fill','none');
  o.text.forEach((s,i)=>T(s,o.tx,o.tys[i],25,{anchor:'start'}));
  T("1 \u2212 specificity",o.xlx,o.xly,24.5); T("Sensitivity",o.ylx,o.yly,24.5,{rot:-90});
}
rocPanel({left:1470.5,right:2247,top:1004,bottom:1424,x0:1482,x1:2236,y0:1412,y1:1015.4,tp:9,up:rocUpAIS,rt:rocRightAIS,text:rocTextAIS,tx:1960,tys:[1216.6,1246.5,1277,1307,1337,1367,1397],xlx:1881,xly:1471,ylx:1393,yly:1197.6});
rocPanel({left:1469,right:2244,top:1580,bottom:2000,x0:1481,x1:2235,y0:1988,y1:1591,tp:9,up:rocUpICH,rt:rocRightICH,text:rocTextICH,tx:1957.5,tys:[1800.7,1830,1860,1890,1920.5,1950.5,1981],xlx:1871,xly:2043,ylx:1392,yly:1772.5});
rocPanel({left:1470.5,right:2247,top:2136.5,bottom:2557,x0:1481.5,x1:2236,y0:2545,y1:2148,tp:9,up:rocUpMIM,rt:rocRightMIM,text:rocTextMIM,tx:1952,tys:[2357,2387,2417,2447,2477.4,2507.4,2537],xlx:1872,xly:2603,ylx:1393,yly:2329});
rocPanel({left:1465,right:2241,top:2680,bottom:3100,x0:1476,x1:2230.6,y0:3088,y1:2691.7,tp:9,up:rocUpTIA,rt:rocRightTIA,text:rocTextTIA,tx:1948,tys:[2893,2923,2953,2983,3013.7,3043.6,3073],xlx:1867,xly:3147,ylx:1389,yly:2894});
</script></body></html>
